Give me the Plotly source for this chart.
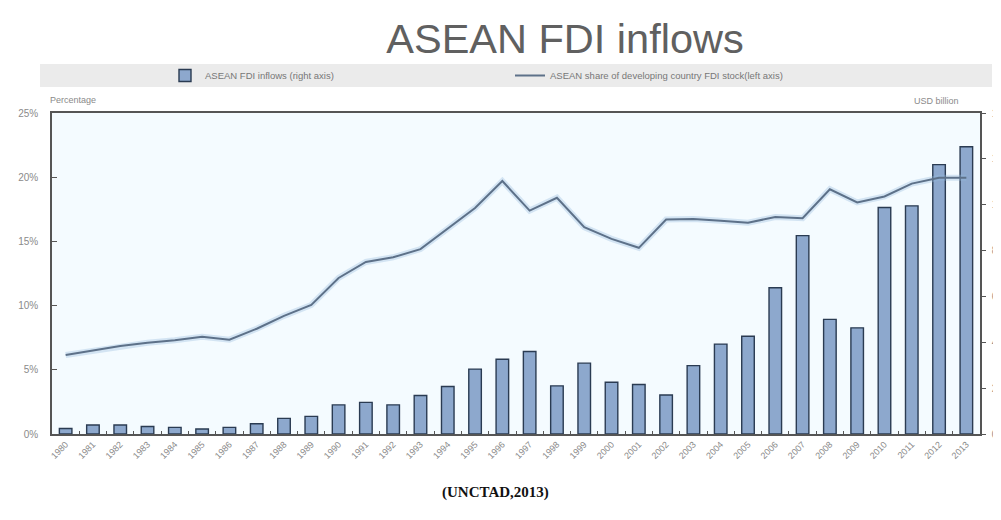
import plotly.graph_objects as go

years = [str(y) for y in range(1980, 2014)]

# ASEAN FDI inflows, USD billion (right axis)
fdi_inflows = [2.4, 3.9, 3.9, 3.3, 2.9, 2.2, 2.9, 4.5, 6.8, 7.7,
               12.7, 13.8, 12.7, 16.8, 20.7, 28.3, 32.6, 36.0, 21.0, 30.9,
               22.6, 21.6, 17.0, 29.8, 39.2, 42.6, 63.8, 86.5, 50.0, 46.3,
               98.8, 99.5, 117.5, 125.3]

# ASEAN share of developing country FDI stock, % (left axis)
asean_share = [6.15, 6.5, 6.85, 7.1, 7.3, 7.58, 7.35, 8.2, 9.2, 10.05,
               12.15, 13.4, 13.76, 14.4, 16.0, 17.6, 19.7, 17.4, 18.4, 16.1,
               15.2, 14.5, 16.7, 16.75, 16.6, 16.45, 16.9, 16.8, 19.06, 18.04,
               18.5, 19.5, 19.96, 19.95]

left_ticks = [0, 5, 10, 15, 20, 25]
left_labels = ["0%", "5%", "10%", "15%", "20%", "25%"]
right_ticks = [0, 20, 40, 60, 80, 100, 120, 140]
right_labels = ["0", "20", "40", "60", "80", "100", "120", "140"]

FONT = "Liberation Sans, Arial, sans-serif"
GRAY = "#8a8a8a"
AX = "#555555"

# page body has an 8px margin, so the figure is sized to fit the window
W, H = 993, 512

fig = go.Figure()

fig.add_trace(go.Bar(
    x=years, y=fdi_inflows, name="ASEAN FDI inflows (right axis)",
    marker=dict(color="#8da8cd", line=dict(color="#2a3b52", width=1.4)),
    yaxis="y",
))
fig.add_trace(go.Scatter(
    x=years, y=asean_share, mode="lines", showlegend=False, hoverinfo="skip",
    line=dict(color="rgba(150,185,220,0.35)", width=6),
    yaxis="y2",
))
fig.add_trace(go.Scatter(
    x=years, y=asean_share, mode="lines",
    name="ASEAN share of developing country FDI stock(left axis)",
    line=dict(color="#5d7189", width=2),
    yaxis="y2",
))

fig.update_layout(
    template="none",
    width=W, height=H,
    margin=dict(l=44, r=21, t=105, b=86, autoexpand=False),
    paper_bgcolor="white",
    plot_bgcolor="#f4fbff",
    font=dict(family=FONT, color=GRAY, size=10),
    bargap=0.54,
    title=dict(text="ASEAN FDI inflows", x=557 / W, xanchor="center",
               y=1 - 30 / H, yanchor="middle", yref="container",
               font=dict(size=41.5, color="#606060", family=FONT)),
    xaxis=dict(
        type="category", showline=True, linecolor=AX, linewidth=1.5, mirror=True,
        ticks="inside", tickson="boundaries", ticklen=3, tickcolor=AX,
        tickangle=-45, tickfont=dict(size=9, color=GRAY), showgrid=False,
        automargin=False, zeroline=False,
    ),
    yaxis=dict(
        side="right", range=[0, 140], tickvals=right_ticks, ticktext=right_labels,
        showline=True, linecolor=AX, linewidth=1.5, ticks="outside", ticklen=4,
        tickcolor=AX, showgrid=False, zeroline=False, automargin=False,
        ticklabelstandoff=4, tickfont=dict(size=10, color=GRAY),
    ),
    yaxis2=dict(
        overlaying="y", side="left", range=[0, 25], tickvals=left_ticks,
        ticktext=left_labels, showline=True, linecolor=AX, linewidth=1.5,
        ticks="inside", ticklen=5, tickcolor=AX, showgrid=False, zeroline=False,
        automargin=False, ticklabelstandoff=10, tickfont=dict(size=10, color=GRAY),
    ),
    legend=dict(
        orientation="h", x=(165 - 52) / 928, xanchor="left",
        y=(434 - 75.5) / 321, yanchor="middle", bgcolor="rgba(0,0,0,0)",
        font=dict(size=9.5, color="#777777"), entrywidth=300, itemwidth=30,
        traceorder="normal",
    ),
    shapes=[dict(
        type="rect", xref="paper", yref="paper", layer="below",
        x0=(40 - 52) / 928, x1=(992 - 52) / 928,
        y0=(434 - 87) / 321, y1=(434 - 64) / 321,
        fillcolor="#ebebeb", line=dict(width=0),
    )],
    annotations=[
        dict(text="Percentage", xref="paper", yref="paper",
             x=(48 - 52) / 928, y=(434 - 100) / 321, xanchor="left", yanchor="middle",
             showarrow=False, font=dict(size=9, color=GRAY)),
        dict(text="USD billion", xref="paper", yref="paper",
             x=(961 - 52) / 928, y=(434 - 101) / 321, xanchor="right", yanchor="middle",
             showarrow=False, font=dict(size=9, color=GRAY)),
        dict(text="<b>(UNCTAD,2013)</b>", xref="paper", yref="paper",
             x=(495 - 52) / 928, y=(434 - 492) / 321, xanchor="center", yanchor="middle",
             showarrow=False,
             font=dict(size=15, color="#111111", family="Liberation Serif, Times New Roman, serif")),
    ],
)

fig.write_html("out.html")
